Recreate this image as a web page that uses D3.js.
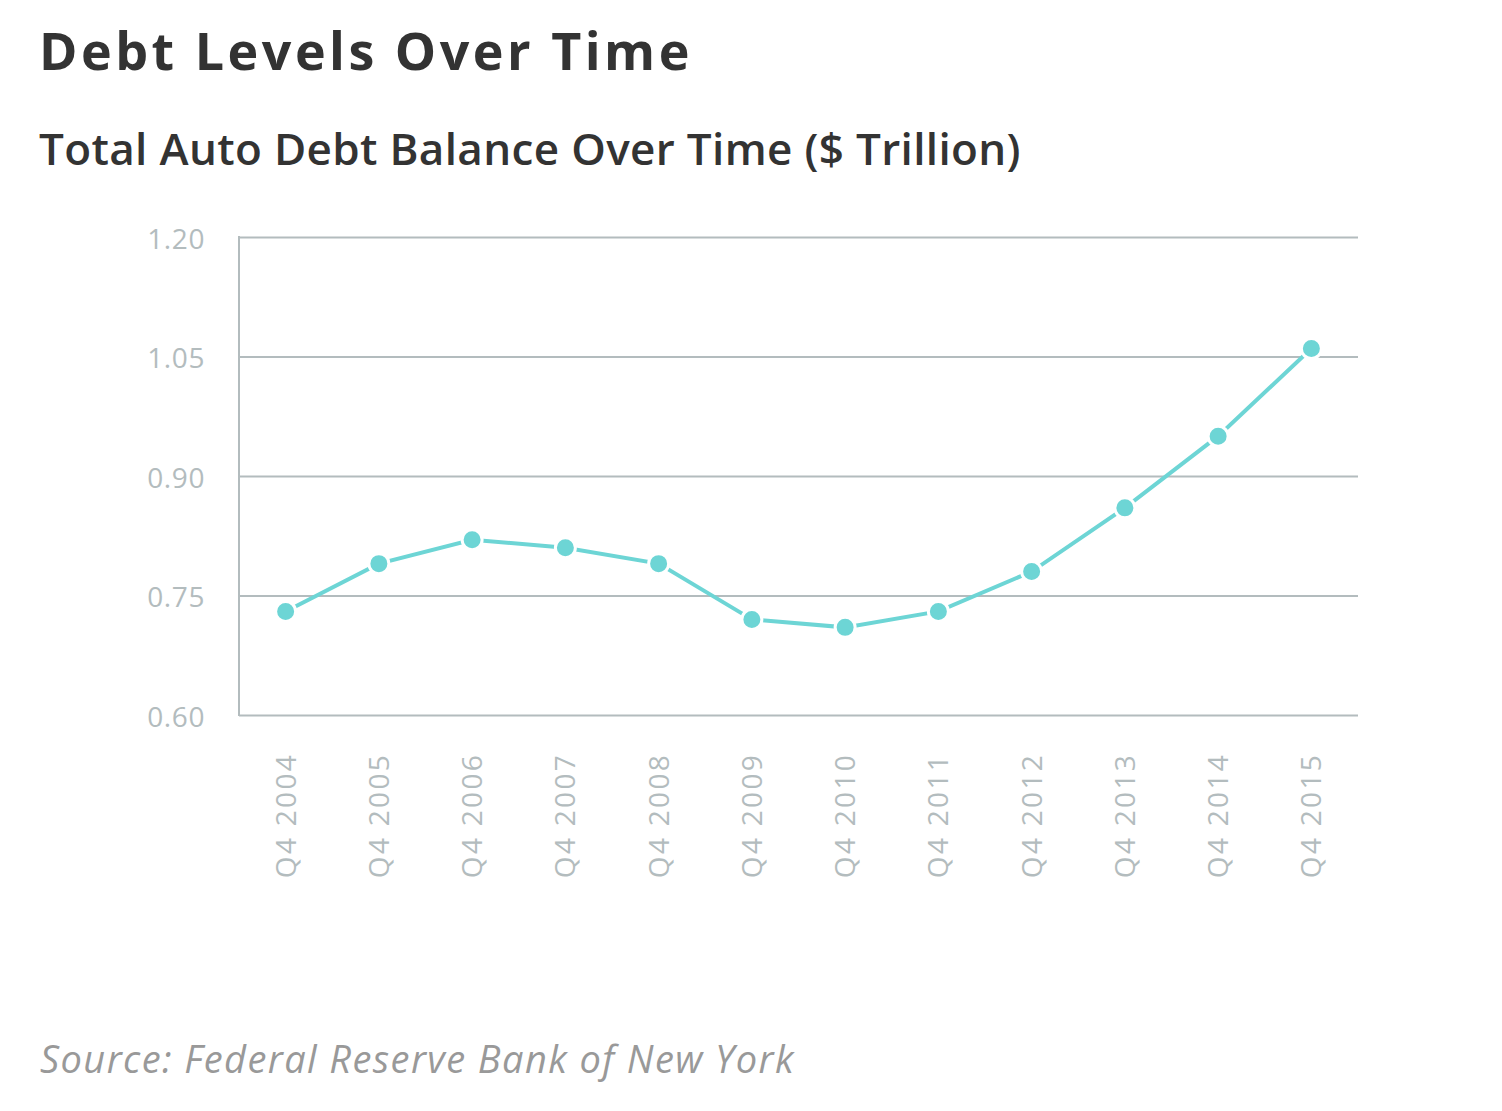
<!DOCTYPE html>
<html><head><meta charset="utf-8">
<script src="https://cdn.jsdelivr.net/npm/d3@7"></script>
<style>
body{margin:0;background:#fff;}
text{font-family:"Open Sans",Lato,sans-serif;}
</style></head>
<body>
<svg id="chart" width="1502" height="1111"></svg>
<script>
const categories = ["Q4 2004","Q4 2005","Q4 2006","Q4 2007","Q4 2008","Q4 2009","Q4 2010","Q4 2011","Q4 2012","Q4 2013","Q4 2014","Q4 2015"];
const values = [0.73,0.79,0.82,0.81,0.79,0.72,0.71,0.73,0.78,0.86,0.95,1.06];
const yTicks = [0.60,0.75,0.90,1.05,1.20];

const svg = d3.select("#chart");
const pLeft = 239, pRight = 1358, pTop = 237, pBottom = 715;
const font = "'Open Sans',Lato,sans-serif";

svg.append("text").attr("x",39).attr("y",70)
  .attr("font-size",52).attr("font-weight",700).attr("letter-spacing",3.5)
  .attr("fill","#333").text("Debt Levels Over Time");
svg.append("text").attr("x",39).attr("y",165)
  .attr("font-size",44).attr("font-weight",600).attr("letter-spacing",0.35)
  .attr("fill","#333").text("Total Auto Debt Balance Over Time ($ Trillion)");
svg.append("text").attr("x",40).attr("y",1073)
  .attr("font-size",38).attr("font-style","italic").attr("letter-spacing",1.4)
  .attr("fill","#999").text("Source: Federal Reserve Bank of New York");

const x = d3.scaleBand().domain(categories).range([pLeft,pRight]).padding(0);
const y = d3.scaleLinear().domain([0.60,1.20]).range([pBottom,pTop]);

const gy = svg.append("g").attr("transform",`translate(${pLeft},0)`)
  .call(d3.axisLeft(y).tickValues(yTicks).tickFormat(d3.format(".2f")).tickSize(-(pRight-pLeft)).tickPadding(34));
gy.select(".domain").remove();
gy.selectAll(".tick line").attr("stroke","#b3bcbe").attr("stroke-width",2);
gy.selectAll(".tick text").attr("font-size",28).attr("letter-spacing",0.6).attr("fill","#b3bcbe").attr("font-family",font).attr("dy","0.4em");
svg.append("line").attr("x1",pLeft).attr("x2",pLeft).attr("y1",pTop-1).attr("y2",pBottom+1)
  .attr("stroke","#b3bcbe").attr("stroke-width",2);

const gx = svg.append("g").attr("transform",`translate(0,${pBottom})`)
  .call(d3.axisBottom(x).tickSize(0).tickPadding(0));
gx.select(".domain").remove();
gx.selectAll(".tick text")
  .attr("font-size",28).attr("letter-spacing",2.3).attr("fill","#b3bcbe").attr("font-family",font)
  .attr("transform","rotate(-90)")
  .attr("text-anchor","end").attr("dy","0.36em").attr("x",-38).attr("y",0);

const cx = d => x(d) + x.bandwidth()/2;
const data = categories.map((c,i)=>({c,v:values[i]}));
svg.append("path").datum(data)
  .attr("d",d3.line().x(d=>cx(d.c)).y(d=>y(d.v)))
  .attr("fill","none").attr("stroke","#6dd5d5").attr("stroke-width",4);
svg.selectAll("circle.pt").data(data).join("circle").attr("class","pt")
  .attr("cx",d=>cx(d.c)).attr("cy",d=>y(d.v)).attr("r",10)
  .attr("fill","#6dd5d5").attr("stroke","#fff").attr("stroke-width",3);
</script>
</body></html>
